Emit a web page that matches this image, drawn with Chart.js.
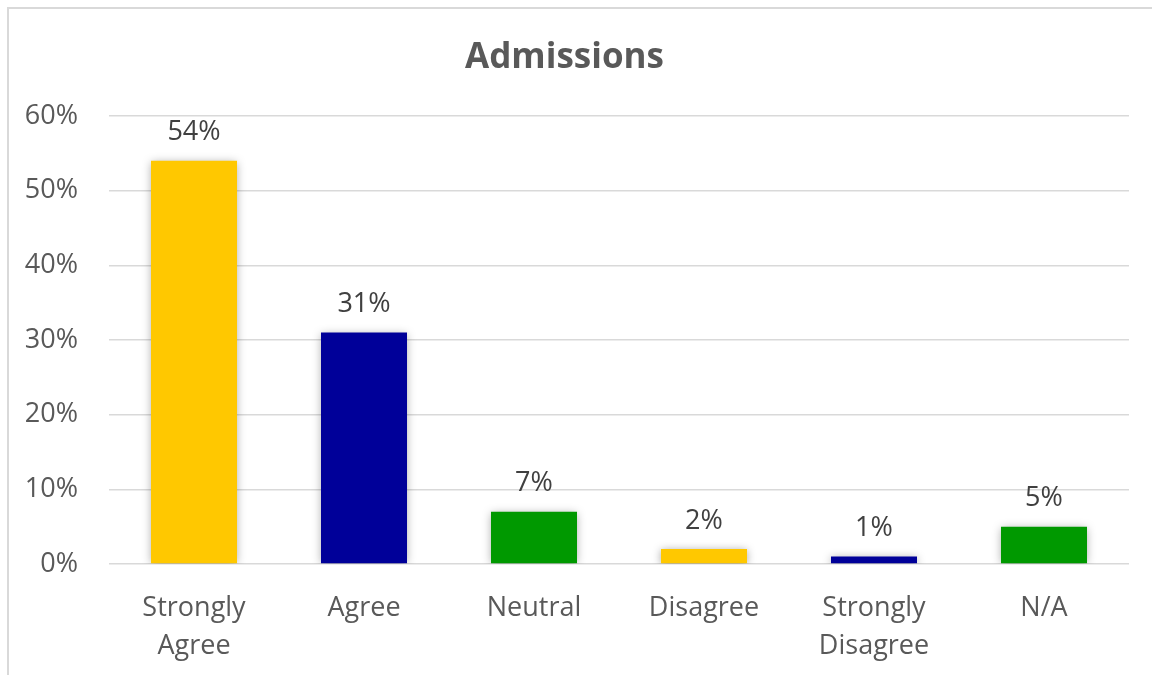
<!DOCTYPE html>
<html>
<head>
<meta charset="utf-8">
<title>Admissions</title>
<script src="https://cdn.jsdelivr.net/npm/chart.js@4"></script>
<style>
    body { margin: 0; background: #ffffff; }
    #wrap { position: relative; width: 1152px; height: 675px; overflow: hidden; }
    #frame {
        position: absolute; left: 7px; top: 7px; width: 1200px; height: 700px;
        border-left: 2px solid #d9d9d9; border-top: 2px solid #d9d9d9;
        pointer-events: none;
    }
    canvas { position: absolute; left: 0; top: 0; }
</style>
</head>
<body>
<div id="wrap">
    <div id="frame"></div>
    <canvas id="myChart" width="1152" height="675"></canvas>
</div>
<script>
// survey answers and their share
const categories = [['Strongly', 'Agree'], 'Agree', 'Neutral', 'Disagree', ['Strongly', 'Disagree'], 'N/A'];
const percentages = [54, 31, 7, 2, 1, 5];
const barColors = ['#ffc800', '#000099', '#009900', '#ffc800', '#000099', '#009900'];
const yTicks = [0, 10, 20, 30, 40, 50, 60];

const fontFamily = "'Open Sans', 'Noto Sans', sans-serif";

// soft glow around the bars
const barShadow = {
    id: 'barShadow',
    beforeDatasetsDraw(chart) {
        const ctx = chart.ctx;
        ctx.save();
        ctx.shadowColor = 'rgba(0, 0, 0, 0.35)';
        ctx.shadowBlur = 9;
        ctx.shadowOffsetY = 1;
    },
    afterDatasetsDraw(chart) {
        chart.ctx.restore();
    }
};

// value text above each bar
const valueLabels = {
    id: 'valueLabels',
    afterDatasetsDraw(chart) {
        const ctx = chart.ctx;
        const meta = chart.getDatasetMeta(0);
        ctx.save();
        ctx.font = '27px ' + fontFamily;
        ctx.fillStyle = '#404040';
        ctx.textAlign = 'center';
        ctx.textBaseline = 'middle';
        meta.data.forEach(function (bar, i) {
            ctx.fillText(percentages[i] + '%', bar.x, bar.y - 28);
        });
        ctx.restore();
    }
};

const ctx = document.getElementById('myChart').getContext('2d');
const myChart = new Chart(ctx, {
    type: 'bar',
    data: {
        labels: categories,
        datasets: [{
            data: percentages,
            backgroundColor: barColors,
            borderWidth: 0,
            barPercentage: 0.506,
            categoryPercentage: 1
        }]
    },
    options: {
        responsive: false,
        animation: false,
        layout: { padding: { left: 0, right: 23, top: 0, bottom: 0 } },
        plugins: {
            legend: { display: false },
            tooltip: { enabled: false },
            title: {
                display: true,
                text: 'Admissions',
                color: '#595959',
                font: { family: fontFamily, size: 35, weight: 'bold', lineHeight: 1.2 },
                padding: { top: 37, bottom: 37 }
            }
        },
        scales: {
            x: {
                grid: { display: false },
                border: { display: false },
                ticks: {
                    color: '#595959',
                    font: { family: fontFamily, size: 27, lineHeight: 1.38 },
                    padding: 18,
                    maxRotation: 0,
                    autoSkip: false
                },
                afterFit: function (scale) { scale.height = 111; }
            },
            y: {
                min: 0,
                max: 60,
                afterBuildTicks: function (scale) {
                    scale.ticks = yTicks.map(function (v) { return { value: v }; });
                },
                grid: { color: '#d9d9d9', lineWidth: 1.5, drawTicks: false },
                border: { display: false },
                ticks: {
                    color: '#595959',
                    font: { family: fontFamily, size: 27 },
                    padding: 31,
                    callback: function (v) { return v + '%'; }
                },
                afterFit: function (scale) { scale.width = 109; }
            }
        }
    },
    plugins: [barShadow, valueLabels]
});
</script>
</body>
</html>
